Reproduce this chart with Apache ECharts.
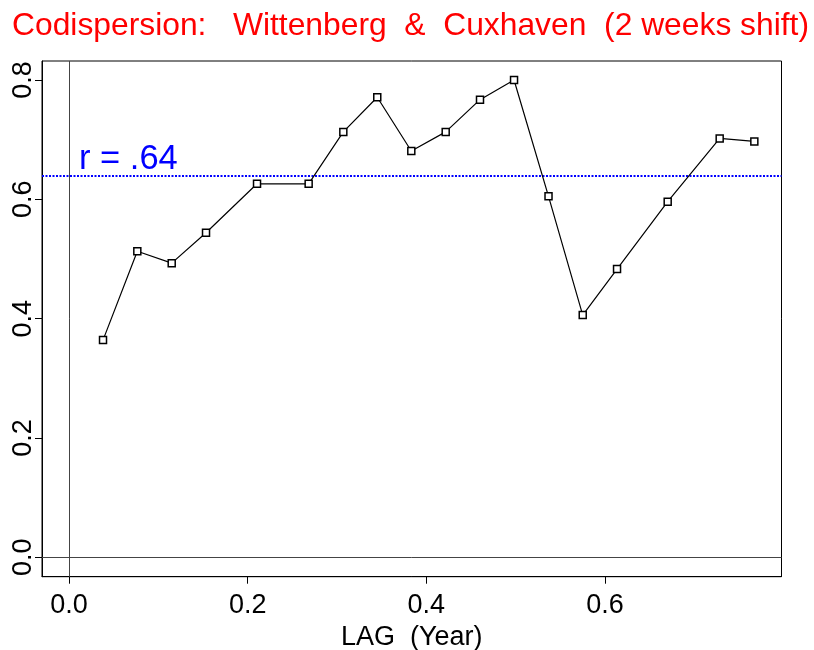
<!DOCTYPE html>
<html>
<head>
<meta charset="utf-8">
<script src="https://cdn.jsdelivr.net/npm/echarts@6/dist/echarts.min.js"></script>
<style>html,body{margin:0;padding:0;background:#fff}#c{width:814px;height:650px}</style>
</head>
<body>
<div id="c"></div>
<script>
const lagYears = [0.0381, 0.0765, 0.1150, 0.1534, 0.2105, 0.2683, 0.3071, 0.3451, 0.3832, 0.4217, 0.4601, 0.4982, 0.5368, 0.5751, 0.6135, 0.6702, 0.7284, 0.7672];
const codispersion = [0.364, 0.513, 0.493, 0.544, 0.626, 0.626, 0.713, 0.771, 0.681, 0.713, 0.767, 0.800, 0.605, 0.406, 0.483, 0.596, 0.702, 0.697];
const meanR = 0.64;
const xTicks = [0, 0.2, 0.4, 0.6];
const yTicks = [0, 0.2, 0.4, 0.6, 0.8];
const titleText = 'Codispersion:   Wittenberg  &  Cuxhaven  (2 weeks shift)';
const xName = 'LAG  (Year)';

const chart = echarts.init(document.getElementById('c'), null, {renderer: 'canvas'});
const font = 'Liberation Sans, Arial, sans-serif';
chart.setOption({
  animation: false,
  backgroundColor: '#fff',
  title: {
    text: titleText,
    left: 405.5, top: 5, textAlign: 'center',
    textStyle: {color: '#ff0000', fontSize: 31.8, fontWeight: 'normal', fontFamily: font}
  },
  grid: {left: 42, right: 32.5, top: 61, bottom: 73.3, outerBoundsMode: 'none', containLabel: false,
    show: true, borderColor: '#000', borderWidth: 1, backgroundColor: 'transparent'},
  xAxis: {
    type: 'value', min: -0.0302, max: 0.7976,
    name: xName, nameLocation: 'middle', nameGap: 42,
    nameTextStyle: {color: '#000', fontSize: 27, fontFamily: font},
    axisLine: {show: true, onZero: false, lineStyle: {color: '#000', width: 1}},
    axisTick: {show: true, customValues: xTicks, length: 7, lineStyle: {color: '#000'}},
    axisLabel: {customValues: xTicks, color: '#000', fontSize: 27, fontFamily: font, margin: 15,
      formatter: v => v.toFixed(1)},
    splitLine: {show: false}
  },
  yAxis: {
    type: 'value', min: -0.0325, max: 0.8318,
    axisLine: {show: true, onZero: false, lineStyle: {color: '#000', width: 1}},
    axisTick: {show: true, customValues: yTicks, length: 7, lineStyle: {color: '#000'}},
    axisLabel: {customValues: yTicks, color: '#000', fontSize: 27, fontFamily: font, margin: 5, rotate: 90,
      formatter: v => v.toFixed(1)},
    splitLine: {show: false}
  },
  series: [{
    type: 'line',
    data: lagYears.map((x, i) => [x, codispersion[i]]),
    symbol: 'rect', symbolSize: 7, showAllSymbol: true,
    lineStyle: {color: '#000', width: 1.2},
    itemStyle: {color: '#fff', borderColor: '#000', borderWidth: 1.5},
    z: 5,
    markLine: {
      silent: true, symbol: 'none', animation: false,
      data: [
        {xAxis: 0, lineStyle: {color: '#444', width: 1, type: 'solid'}, label: {show: false}},
        {yAxis: 0, lineStyle: {color: '#444', width: 1, type: 'solid'}, label: {show: false}},
        {yAxis: meanR, lineStyle: {color: '#0000ff', width: 2, type: [2, 1.5]},
          label: {show: true, position: 'insideStartTop', formatter: 'r = .64', color: '#0000ff', fontSize: 34.5, fontFamily: font, distance: [37, -2]}}
      ]
    }
  }]
});
</script>
</body>
</html>
